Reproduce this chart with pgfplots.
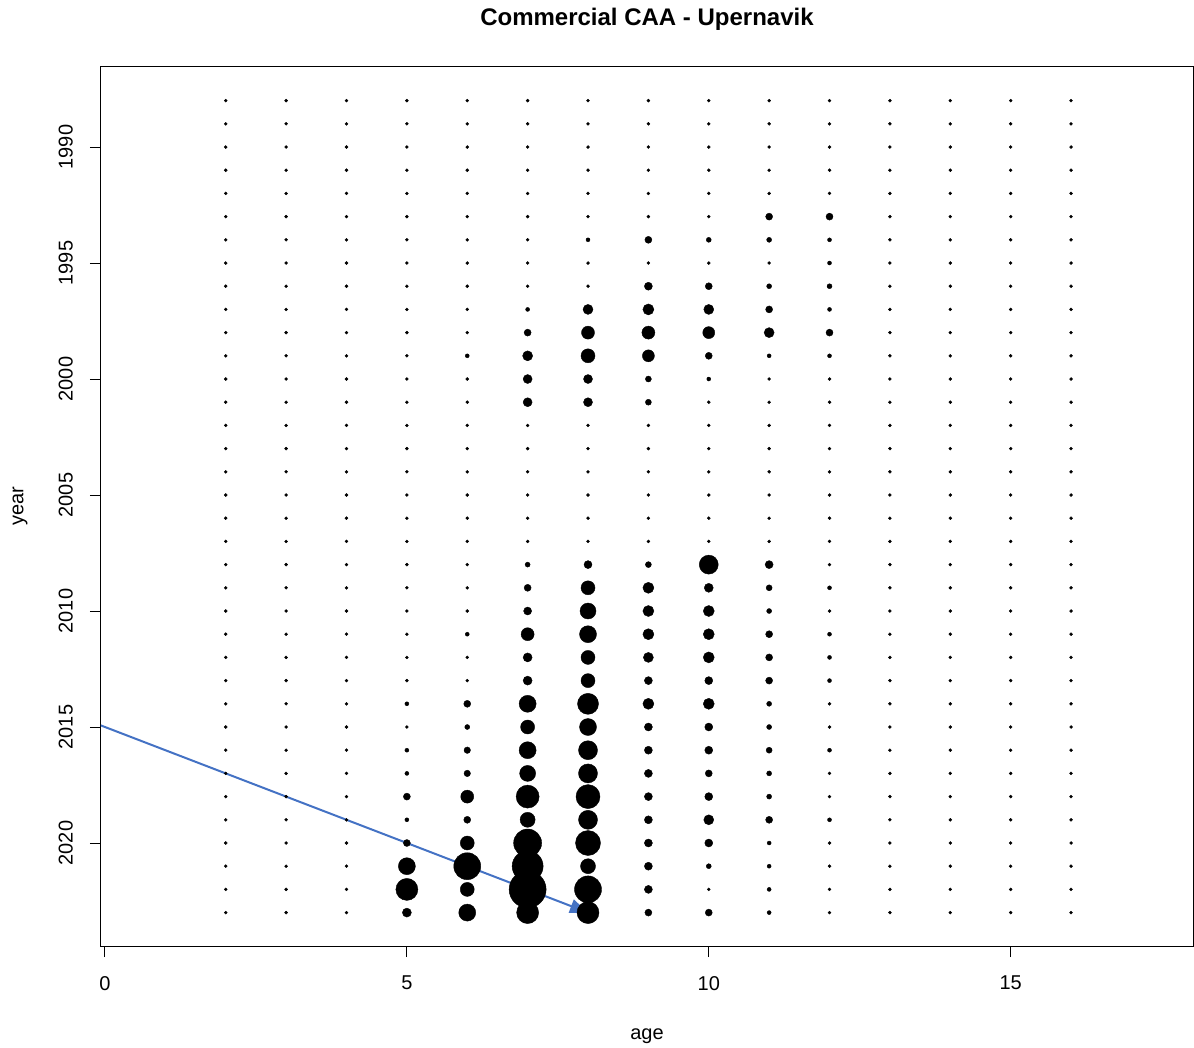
\documentclass[border=0pt]{standalone}
\usepackage{fontspec}
\setmainfont{Liberation Sans}
\usepackage{pgfplots}
\usepackage{pgfplotstable}
\pgfplotsset{compat=1.18}
\usetikzlibrary{arrows.meta}
\definecolor{arrowblue}{RGB}{68,114,196}
\pgfplotstableread{
year a2 a3 a4 a5 a6 a7 a8 a9 a10 a11 a12 a13 a14 a15 a16
1988 3 3 3 3 3 3 3 3 3 3 3 3 3 3 3
1989 3 3 3 3 3 3 3 3 3 3 3 3 3 3 3
1990 3 3 3 3 3 3 3 3 3 3 3 3 3 3 3
1991 3 3 3 3 3 3 3 3 3 3 3 3 3 3 3
1992 3 3 3 3 3 3 3 3 3 3 3 3 3 3 3
1993 3 3 3 3 3 3 3 3 3 7 7 3 3 3 3
1994 3 3 3 3 3 3 4 7 5 5 4 3 3 3 3
1995 3 3 3 3 3 3 3 3 3 3 4 3 3 3 3
1996 3 3 3 3 3 3 3 8 7 5 5 3 3 3 3
1997 3 3 3 3 3 4 10 11 10 7 4 3 3 3 3
1998 3 3 3 3 3 7 13 13 12 10 7 3 3 3 3
1999 3 3 3 3 4 10 14 12 7 4 4 3 3 3 3
2000 3 3 3 3 3 9 9 6 4 3 3 3 3 3 3
2001 3 3 3 3 3 9 9 6 3 3 3 3 3 3 3
2002 3 3 3 3 3 3 3 3 3 3 3 3 3 3 3
2003 3 3 3 3 3 3 3 3 3 3 3 3 3 3 3
2004 3 3 3 3 3 3 3 3 3 3 3 3 3 3 3
2005 3 3 3 3 3 3 3 3 3 3 3 3 3 3 3
2006 3 3 3 3 3 3 3 3 3 3 3 3 3 3 3
2007 3 3 3 3 3 3 3 3 3 3 3 3 3 3 3
2008 3 3 3 3 3 5 8 6 19 8 3 3 3 3 3
2009 3 3 3 3 3 7 14 11 9 6 4 3 3 3 3
2010 3 3 3 3 3 8 16 11 11 5 3 3 3 3 3
2011 3 3 3 3 4 13 17 11 11 7 4 3 3 3 3
2012 3 3 3 3 3 9 14 10 11 7 4 3 3 3 3
2013 3 3 3 3 3 9 14 8 8 7 4 3 3 3 3
2014 3 3 3 4 7 17 21 11 11 5 3 3 3 3 3
2015 3 3 3 3 5 14 17 8 8 5 3 3 3 3 3
2016 3 3 3 4 6.5 17 19 8 8 6 4 3 3 3 3
2017 3 3 3 4 6.5 16 19 8 7 5 3 3 3 3 3
2018 3 3 3 7 13 23 24 8 8 5 3 3 3 3 3
2019 3 3 3 4 7 15 19 8 10 7 4 3 3 3 3
2020 3 3 3 7 14 28 25 8 8 4 3 3 3 3 3
2021 3 3 3 17 27 31 15 8 5 4 3 3 3 3 3
2022 3 3 3 22 14 37 27 8 3 4 3 3 3 3 3
2023 3 3 3 9 17 22 22 7 7 4 3 3 3 3 3
}\caa
\begin{document}
\begin{tikzpicture}
\useasboundingbox (-50.5pt,-51pt) rectangle (546.5pt,473pt);
\begin{axis}[
  at={(0,0)}, anchor=south west,
  scale only axis, width=546pt, height=439.5pt,
  xmin=-0.066, xmax=18.02, ymin=1986.55, ymax=2024.44,
  y dir=reverse,
  xtick={0,5,10,15}, ytick={1990,1995,2000,2005,2010,2015,2020},
  tick align=outside, tick pos=left, major tick length=5.5pt,
  axis line style={line width=0.5pt},
  tick style={line width=0.5pt, black},
  font=\fontsize{10}{12}\selectfont,
  /pgf/number format/assume math mode=true,
  /pgf/number format/set thousands separator={},
  xticklabel style={yshift=-6pt},
  yticklabel style={rotate=90, anchor=south, yshift=5pt},
  xlabel={age}, ylabel={year},
  xlabel style={at={(axis description cs:0.5,0)}, anchor=center, yshift=-45pt},
  ylabel style={at={(axis description cs:0,0.5)}, anchor=center, yshift=40.5pt},
  title={\bfseries\fontsize{12}{14}\selectfont Commercial CAA - Upernavik},
  title style={at={(axis description cs:0.5,1)}, anchor=center, yshift=18pt},
]
\pgfplotsinvokeforeach{2,...,16}{
  \addplot[only marks, scatter, mark=*,
    scatter/use mapped color={draw=black, fill=black},
    mark options={line width=0.2pt},
    visualization depends on={\thisrow{a#1}/4 \as \msize},
    scatter/@pre marker code/.append style={/tikz/mark size=\msize}]
    table[x expr=#1, y=year] {\caa};
}
\addplot[arrowblue, line width=1pt, -{Triangle[length=9pt,width=7pt]}]
  coordinates {(-0.1,2014.9) (8,2023)};
\end{axis}
\end{tikzpicture}
\end{document}
